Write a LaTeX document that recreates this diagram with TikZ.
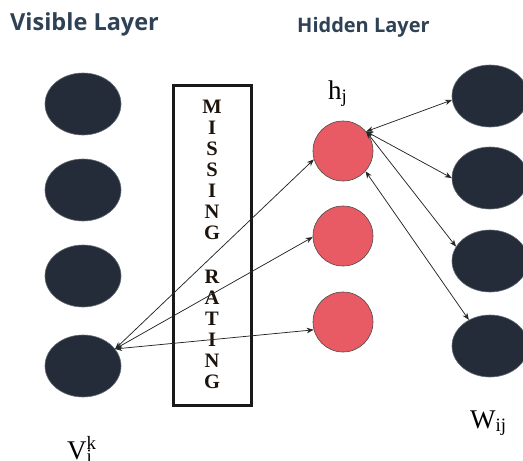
\documentclass[tikz,border=0pt]{standalone}
\usepackage{fontspec}
\setmainfont{Liberation Serif}
\newfontfamily\labelfont{Open Sans}
\usetikzlibrary{arrows.meta,shapes.geometric}
\definecolor{darknode}{HTML}{232C38}
\definecolor{rednode}{HTML}{E85A64}
\definecolor{labelcol}{HTML}{2E4155}
\tikzset{
  visnode/.style={ellipse,fill=darknode,draw=darknode!70!white,line width=0.6pt,minimum width=76pt,minimum height=62pt,inner sep=0pt},
  hidnode/.style={circle,fill=rednode,draw=black!70,line width=0.6pt,minimum size=60pt,inner sep=0pt},
  conn/.style={{Stealth[length=7pt,width=5.5pt]}-{Stealth[length=7pt,width=5.5pt]},line width=0.75pt,black!85},
  layerlabel/.style={font=\labelfont\bfseries,text=labelcol,inner sep=0pt,anchor=west},
  boxletter/.style={font=\bfseries\fontsize{20.5}{21}\selectfont,inner sep=0pt,text=black!85!brown},
  sym/.style={font=\fontsize{27}{30}\selectfont,inner sep=0pt,anchor=base west}
}
\begin{document}
\begin{tikzpicture}[x=1pt,y=-1pt]
\useasboundingbox (0,0) rectangle (523,461);
\clip (0,0) rectangle (523,461);
% labels
\node[layerlabel,font=\labelfont\bfseries\fontsize{23.5}{26}\selectfont] (vislab) at (10,24) {Visible Layer};
\node[layerlabel,font=\labelfont\bfseries\fontsize{20}{24}\selectfont] (hidlab) at (297,27) {Hidden Layer};
% visible nodes
\node[visnode] (V1) at (83,104) {};
\node[visnode] (V2) at (83,190) {};
\node[visnode] (V3) at (83,276) {};
\node[visnode] (V4) at (83,366) {};
% hidden nodes
\node[hidnode] (H1) at (343,151) {};
\node[hidnode] (H2) at (343,236) {};
\node[hidnode] (H3) at (343,322) {};
% right nodes
\node[visnode] (R1) at (490,96) {};
\node[visnode] (R2) at (490,178) {};
\node[visnode] (R3) at (490,261) {};
\node[visnode] (R4) at (490,346) {};
% missing rating box
\node[draw=black!90,line width=3pt,minimum width=78pt,minimum height=320pt,inner sep=0pt] (box) at (212,245) {};
\foreach \c [count=\i from 0] in {M,I,S,S,I,N,G} {
  \node[boxletter] (L\i) at (212,107+21*\i) {\c};
}
\foreach \c [count=\i from 0] in {R,A,T,I,N,G} {
  \node[boxletter] (K\i) at (212,277+21*\i) {\c};
}
% symbols
\node[sym] (hj) at (328,99) {h\textsubscript{j}};
\node[sym] (wij) at (470,428) {W\textsubscript{ij}};
\node[sym] (vik) at (67,459) {V\rlap{\textsubscript{i}}\textsuperscript{k}};
% connectors
\coordinate (vt) at (V4.28);
\draw[conn] (vt) -- (H1.196);
\draw[conn] (vt) -- (H2.182);
\draw[conn] (vt) -- (H3.195);
\coordinate (ht) at (H1.40);
\draw[conn] (ht) -- (R1.186);
\draw[conn] (ht) -- (R2.180);
\draw[conn] (ht) -- (R3.157);
\draw[conn] (H1.-42) -- (R4.129);
\end{tikzpicture}
\end{document}
